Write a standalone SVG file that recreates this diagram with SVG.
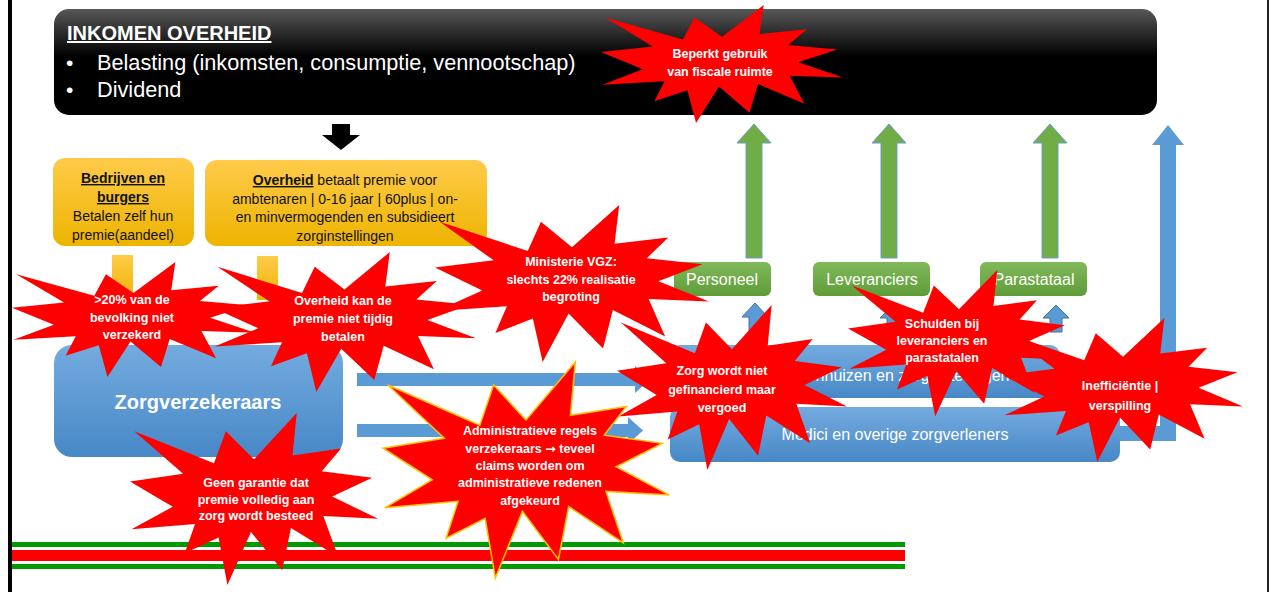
<svg xmlns="http://www.w3.org/2000/svg" width="1277" height="592" viewBox="0 0 1277 592">
  <defs>
    <linearGradient id="gBlack" x1="0" y1="0" x2="0" y2="1">
      <stop offset="0" stop-color="#575757"/>
      <stop offset="0.45" stop-color="#000"/>
      <stop offset="1" stop-color="#000"/>
    </linearGradient>
    <linearGradient id="gGold" x1="0" y1="0" x2="0" y2="1">
      <stop offset="0" stop-color="#FFCB4A"/>
      <stop offset="1" stop-color="#EDB400"/>
    </linearGradient>
    <linearGradient id="gBlue" x1="0" y1="0" x2="0" y2="1">
      <stop offset="0" stop-color="#74ABDF"/>
      <stop offset="1" stop-color="#4788C7"/>
    </linearGradient>
    <linearGradient id="gGreen" x1="0" y1="0" x2="0" y2="1">
      <stop offset="0" stop-color="#80B95A"/>
      <stop offset="1" stop-color="#5F9C38"/>
    </linearGradient>
    <!-- explosion shape, drawn in a 216 x 216 box and scaled per use -->
    <path id="seal" vector-effect="non-scaling-stroke" d="M108,58 L145.22,0 L141.55,53.25 L183.8,44.57 L167.02,73.15 L210.97,81.37 L176.07,104.75 L216,132.9 L168.37,129.42 L181.45,180.95 L140.2,144.57 L132.47,197.37 L105.32,149.35 L84.85,216 L77.15,156.27 L47.62,176.17 L56.67,139.37 L1.35,145.87 L37.22,117.75 L0,86.15 L46.27,76.17 L3.7,22.95 L73.12,63.2 L83.52,22.95 Z"/>
  </defs>
  <style>
    .f{font-family:"Liberation Sans",Arial,sans-serif}
    .white{fill:#fff}
    .dark{fill:#111}
    .ul{text-decoration:underline}
    .b{font-weight:bold}
    .mid{text-anchor:middle}
    .boom{fill:#FF0000}
    .boomEdge{fill:#FF0000;stroke:#FFC000;stroke-width:1.5}
    .bt{font-family:"Liberation Sans",Arial,sans-serif;font-weight:bold;font-size:12.5px;fill:#fff;text-anchor:middle}
    .arw{font-family:"DejaVu Sans",sans-serif;font-weight:bold}
    .garrow{fill:#70AD47;stroke:#6D9BC9;stroke-width:1}
    .barrow{fill:#5B9BD5}
    .sarrow{fill:#5B9BD5;stroke:#41719C;stroke-width:1}
  </style>

  <rect x="0" y="0" width="1277" height="592" fill="#fff"/>

  <!-- page frame -->
  <rect x="8" y="0" width="4" height="592" fill="#000"/>
  <rect x="1267" y="0" width="2" height="592" fill="#222"/>

  <!-- government income -->
  <g id="inkomen-overheid">
    <rect x="54" y="9" width="1103" height="106" rx="15" fill="url(#gBlack)"/>
    <text class="f white b ul" x="67" y="40" font-size="20">INKOMEN OVERHEID</text>
    <text class="f white" x="66" y="70" font-size="21">•</text>
    <text class="f white" x="97" y="70" font-size="21.7">Belasting (inkomsten, consumptie, vennootschap)</text>
    <text class="f white" x="66" y="97" font-size="21">•</text>
    <text class="f white" x="97" y="97" font-size="21.7">Dividend</text>
  </g>

  <!-- connectors -->
  <g id="connectors">
    <path d="M332,124 H350 V135 H360 L341,150 L322,135 H332 Z" fill="#000"/>
    <rect x="112" y="255" width="21" height="45" fill="url(#gGold)"/>
    <rect x="257" y="256" width="21" height="44" fill="url(#gGold)"/>
    <path class="barrow" d="M357,373 H635 V366 L650,379.5 L635,393 V386 H357 Z"/>
    <path class="barrow" d="M357,424 H628 V417 L643,430.5 L628,444 V437 H357 Z"/>
    <path class="garrow" d="M746,258 V143 H737 L754,124 L771,143 H762 V258 Z"/>
    <path class="garrow" d="M881,258 V143 H872 L889,124 L906,143 H897 V258 Z"/>
    <path class="garrow" d="M1042,258 V143 H1033 L1050,124 L1067,143 H1058 V258 Z"/>
    <path class="barrow" d="M1120,426 H1160 V145 H1152 L1168,125 L1184,145 H1176 V441 H1120 Z"/>
    <path class="sarrow" d="M749,345 V317 H742 L755,303 L768,317 H761 V345 Z"/>
    <path class="sarrow" d="M887,345 V318 H880 L893,305 L906,318 H899 V345 Z"/>
    <path class="sarrow" d="M1050,332 V318 H1043 L1056,305 L1069,318 H1062 V332 Z"/>
  </g>

  <!-- payers -->
  <g id="bedrijven-burgers">
    <rect x="53" y="158" width="141" height="88" rx="12" fill="url(#gGold)"/>
    <text class="f dark b ul mid" x="123" y="183" font-size="14">Bedrijven en</text>
    <text class="f dark b ul mid" x="123" y="202" font-size="14">burgers</text>
    <text class="f dark mid" x="123" y="221" font-size="14">Betalen zelf hun</text>
    <text class="f dark mid" x="123" y="240" font-size="14">premie(aandeel)</text>
  </g>
  <g id="overheid">
    <rect x="205" y="160" width="282" height="86" rx="12" fill="url(#gGold)"/>
    <text class="f dark mid" x="345" y="185" font-size="14"><tspan class="b ul">Overheid</tspan> betaalt premie voor</text>
    <text class="f dark mid" x="345" y="204" font-size="14">ambtenaren | 0-16 jaar | 60plus | on-</text>
    <text class="f dark mid" x="345" y="222" font-size="14">en minvermogenden en subsidieert</text>
    <text class="f dark mid" x="345" y="241" font-size="14">zorginstellingen</text>
  </g>

  <!-- insurers and care providers -->
  <g id="zorgverzekeraars">
    <rect x="54" y="345" width="289" height="112" rx="18" fill="url(#gBlue)"/>
    <text class="f white b mid" x="198" y="409" font-size="20">Zorgverzekeraars</text>
  </g>
  <g id="ziekenhuizen">
    <rect x="669" y="345" width="391" height="53" rx="10" fill="url(#gBlue)"/>
    <text class="f white mid" x="893" y="381" font-size="16">Ziekenhuizen en zorginstellingen</text>
  </g>
  <g id="medici">
    <rect x="670" y="407" width="450" height="55" rx="10" fill="url(#gBlue)"/>
    <text class="f white mid" x="895" y="440" font-size="16">Medici en overige zorgverleners</text>
  </g>
  <g id="personeel">
    <rect x="674" y="262" width="97" height="34" rx="6" fill="url(#gGreen)"/>
    <text class="f white mid" x="722" y="285" font-size="16">Personeel</text>
  </g>
  <g id="leveranciers">
    <rect x="813" y="262" width="117" height="34" rx="6" fill="url(#gGreen)"/>
    <text class="f white mid" x="872" y="285" font-size="16">Leveranciers</text>
  </g>
  <g id="parastataal">
    <rect x="980" y="262" width="107" height="34" rx="6" fill="url(#gGreen)"/>
    <text class="f white mid" x="1034" y="285" font-size="16">Parastataal</text>
  </g>

  <!-- bottom bands -->
  <rect x="12" y="542" width="893" height="5" fill="#009900"/>
  <rect x="12" y="550" width="893" height="11" fill="#FF0000"/>
  <rect x="12" y="564" width="893" height="5" fill="#009900"/>

  <!-- problem callouts -->
  <g id="fiscale-ruimte">
    <use href="#seal" class="boom" transform="translate(601,5) scale(1.1204,0.5463)"/>
    <text class="bt" x="720" y="58">Beperkt gebruik</text>
    <text class="bt" x="720" y="76">van fiscale ruimte</text>
  </g>
  <g id="niet-verzekerd">
    <use href="#seal" class="boom" transform="translate(12,262) scale(1.125,0.5324)"/>
    <text class="bt" x="132" y="304">&gt;20% van de</text>
    <text class="bt" x="132" y="322">bevolking niet</text>
    <text class="bt" x="132" y="339">verzekerd</text>
  </g>
  <g id="premie-niet-tijdig">
    <use href="#seal" class="boom" transform="translate(213,252) scale(1.2176,0.6481)"/>
    <text class="bt" x="343" y="305">Overheid kan de</text>
    <text class="bt" x="343" y="323">premie niet tijdig</text>
    <text class="bt" x="343" y="341">betalen</text>
  </g>
  <g id="ministerie">
    <use href="#seal" class="boom" transform="translate(435,205) scale(1.2685,0.7269)"/>
    <text class="bt" x="571" y="266">Ministerie VGZ:</text>
    <text class="bt" x="571" y="284">slechts 22% realisatie</text>
    <text class="bt" x="571" y="301">begroting</text>
  </g>
  <g id="niet-gefinancierd">
    <use href="#seal" class="boom" transform="translate(617,305) scale(1.0648,0.7639)"/>
    <text class="bt" x="722" y="375">Zorg wordt niet</text>
    <text class="bt" x="722" y="394">gefinancierd maar</text>
    <text class="bt" x="722" y="412">vergoed</text>
  </g>
  <g id="schulden">
    <use href="#seal" class="boom" transform="translate(848,270) scale(1.0278,0.6778)"/>
    <text class="bt" x="942" y="328">Schulden bij</text>
    <text class="bt" x="942" y="345">leveranciers en</text>
    <text class="bt" x="942" y="362">parastatalen</text>
  </g>
  <g id="inefficientie">
    <use href="#seal" class="boom" transform="translate(1003,318) scale(1.1111,0.6667)"/>
    <text class="bt" x="1120" y="390">Inefficiëntie |</text>
    <text class="bt" x="1120" y="410">verspilling</text>
  </g>
  <g id="administratieve-regels">
    <use href="#seal" class="boomEdge" transform="translate(383,362) scale(1.3241,1)"/>
    <text class="bt" x="530" y="435">Administratieve regels</text>
    <text class="bt" x="530" y="453">verzekeraars <tspan class="arw">→</tspan> teveel</text>
    <text class="bt" x="530" y="470">claims worden om</text>
    <text class="bt" x="530" y="487">administratieve redenen</text>
    <text class="bt" x="530" y="505">afgekeurd</text>
  </g>
  <g id="geen-garantie">
    <use href="#seal" class="boom" transform="translate(130,413) scale(1.1481,0.7963)"/>
    <text class="bt" x="256" y="487">Geen garantie dat</text>
    <text class="bt" x="256" y="504">premie volledig aan</text>
    <text class="bt" x="256" y="520">zorg wordt besteed</text>
  </g>
</svg>
